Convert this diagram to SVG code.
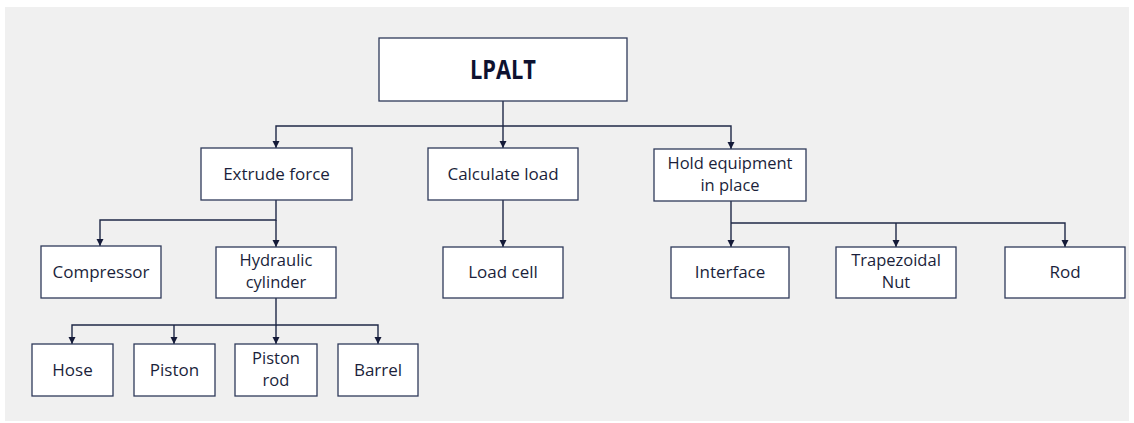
<svg xmlns="http://www.w3.org/2000/svg" width="1134" height="423" viewBox="0 0 1134 423">
<style>
.box{fill:#ffffff;stroke:#2f3a5a;stroke-width:1.3}
.t{font-family:"Open Sans","Liberation Sans",sans-serif;font-size:17px;fill:#1b1f3b;text-anchor:middle}
.t2{font-family:"Open Sans","Liberation Sans",sans-serif;font-size:16.5px;fill:#1b1f3b;text-anchor:middle}
.tb{font-family:"Open Sans","Liberation Sans",sans-serif;font-size:26px;font-weight:bold;fill:#0e1230;text-anchor:middle}
.c{fill:none;stroke:#1f2847;stroke-width:1.4}
</style>
<defs>
<marker id="ah" markerUnits="userSpaceOnUse" markerWidth="8" markerHeight="8" refX="7" refY="4" orient="auto">
<path d="M0,0.5 L7,4 L0,7.5 z" fill="#141a38"/>
</marker>
</defs>
<rect x="5" y="7" width="1124" height="414" fill="#f0f0f0"/>
<g id="connectors">
<path class="c" d="M503,101 V148" marker-end="url(#ah)"/>
<path class="c" d="M503,126 H276 V148" marker-end="url(#ah)"/>
<path class="c" d="M503,126 H731 V149" marker-end="url(#ah)"/>
<path class="c" d="M276,200 V220 H100 V246" marker-end="url(#ah)"/>
<path class="c" d="M276,220 V247" marker-end="url(#ah)"/>
<path class="c" d="M503,200 V247" marker-end="url(#ah)"/>
<path class="c" d="M276,298 V325 H72 V344" marker-end="url(#ah)"/>
<path class="c" d="M174,325 V344" marker-end="url(#ah)"/>
<path class="c" d="M276,325 V344" marker-end="url(#ah)"/>
<path class="c" d="M276,325 H378 V344" marker-end="url(#ah)"/>
<path class="c" d="M731,201 V247" marker-end="url(#ah)"/>
<path class="c" d="M731,223 H1065 V247" marker-end="url(#ah)"/>
<path class="c" d="M896,223 V247" marker-end="url(#ah)"/>
</g>
<g id="lpalt"><rect class="box" x="379" y="38" width="248" height="63"/><text class="tb" x="503" y="78.5" textLength="66" lengthAdjust="spacingAndGlyphs">LPALT</text></g>
<g id="extrude"><rect class="box" x="201" y="148" width="151" height="52"/><text class="t" x="276.5" y="179.5">Extrude force</text></g>
<g id="calculate"><rect class="box" x="428" y="148" width="150" height="52"/><text class="t" x="503" y="179.5">Calculate load</text></g>
<g id="hold"><rect class="box" x="654" y="149" width="152" height="52"/><text class="t2" x="730" y="168.5">Hold equipment</text><text class="t2" x="730" y="191">in place</text></g>
<g id="compressor"><rect class="box" x="41" y="246" width="120" height="52"/><text class="t" x="101" y="277.5">Compressor</text></g>
<g id="hydraulic"><rect class="box" x="216" y="247" width="120" height="51"/><text class="t2" x="276" y="265.5">Hydraulic</text><text class="t2" x="276" y="288">cylinder</text></g>
<g id="loadcell"><rect class="box" x="443" y="247" width="120" height="51"/><text class="t" x="503" y="278">Load cell</text></g>
<g id="interface"><rect class="box" x="671" y="247" width="118" height="51"/><text class="t" x="730" y="278">Interface</text></g>
<g id="trapezoidal"><rect class="box" x="836" y="247" width="120" height="51"/><text class="t2" x="896" y="265.5">Trapezoidal</text><text class="t2" x="896" y="288">Nut</text></g>
<g id="rod"><rect class="box" x="1005" y="247" width="120" height="51"/><text class="t" x="1065" y="278">Rod</text></g>
<g id="hose"><rect class="box" x="32" y="344" width="81" height="52"/><text class="t" x="72.5" y="375.5">Hose</text></g>
<g id="piston"><rect class="box" x="134" y="344" width="81" height="52"/><text class="t" x="174.5" y="375.5">Piston</text></g>
<g id="pistonrod"><rect class="box" x="235" y="344" width="82" height="52"/><text class="t2" x="276" y="363.5">Piston</text><text class="t2" x="276" y="386">rod</text></g>
<g id="barrel"><rect class="box" x="338" y="344" width="80" height="52"/><text class="t" x="378" y="375.5">Barrel</text></g>
</svg>
